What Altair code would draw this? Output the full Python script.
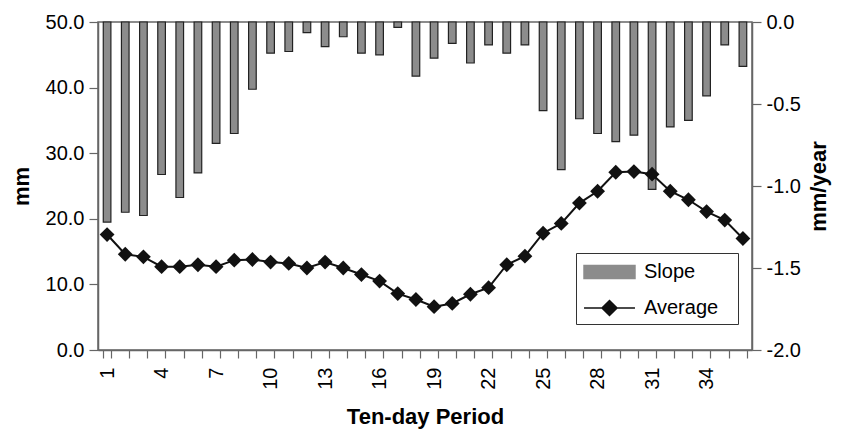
import altair as alt
import pandas as pd

periods = list(range(1, 37))
slope = [-1.22, -1.16, -1.18, -0.93, -1.07, -0.92, -0.74, -0.68, -0.41, -0.19,
         -0.18, -0.065, -0.15, -0.09, -0.19, -0.20, -0.033, -0.33, -0.22, -0.13,
         -0.25, -0.14, -0.19, -0.14, -0.54, -0.90, -0.59, -0.68, -0.73, -0.69,
         -1.02, -0.64, -0.60, -0.45, -0.14, -0.27]
average = [17.6, 14.6, 14.2, 12.7, 12.7, 13.0, 12.7, 13.7, 13.8, 13.4,
           13.2, 12.5, 13.4, 12.5, 11.5, 10.5, 8.6, 7.7, 6.6, 7.1,
           8.5, 9.5, 13.0, 14.3, 17.8, 19.3, 22.4, 24.2, 27.1, 27.2,
           26.8, 24.2, 22.9, 21.1, 19.8, 17.0]

df = pd.DataFrame({"period": periods, "slope": slope, "average": average})
df_s = df.assign(series="Slope")
df_a = df.assign(series="Average")

FONT = "Liberation Sans"
AXIS_COLOR = "#666666"
LABEL_SIZE = 20
TITLE_SIZE = 22

color = alt.Color(
    "series:N",
    scale=alt.Scale(domain=["Slope", "Average"], range=["#8c8c8c", "#111111"]),
    legend=alt.Legend(
        title="MM",
        titleOrient="right",
        titlePadding=0,
        titleFontSize=9,
        titleFont=FONT,
        titleOpacity=0,
        orient="none",
        legendX=478,
        legendY=231,
        padding=5,
        strokeColor="#333333",
        fillColor="white",
        symbolSize=676,
        symbolOffset=14.5,
        labelOffset=20.5,
        rowPadding=12,
        labelFont=FONT,
        labelFontSize=20,
        labelColor="black",
        symbolStrokeWidth=1.5,
        symbolType={"expr": "datum.value == 'Slope' ? 'M-1.96,-0.5H1.96V0.5H-1.96Z' : 'M-1.96,0H1.96M-0.58,0L0,-0.58L0.58,0L0,0.58Z'"},
        symbolFillColor={"expr": "datum.value == 'Slope' ? '#8c8c8c' : '#111111'"},
        symbolStrokeColor="#222222",
        symbolOpacity=1,
    ),
)

x = alt.X(
    "period:O",
    scale=alt.Scale(paddingInner=0.58, paddingOuter=0.29),
    axis=alt.Axis(
        title="Ten-day Period",
        titleFont=FONT,
        titleFontSize=TITLE_SIZE,
        titleFontWeight="bold",
        titleColor="black",
        titlePadding=17,
        labelAngle=270,
        labelFont=FONT,
        labelFontSize=LABEL_SIZE,
        labelColor="black",
        labelPadding=9,
        labelExpr="(datum.value - 1) % 3 == 0 ? datum.label : ''",
        tickBand="extent",
        tickSize=8,
        tickColor=AXIS_COLOR,
        tickWidth=1.2,
        domainColor=AXIS_COLOR,
        domainWidth=1.5,
        grid=False,
    ),
)

bars = alt.Chart(df_s).mark_bar(strokeWidth=1.2, opacity=1).encode(
    x=x,
    y=alt.Y(
        "slope:Q",
        scale=alt.Scale(domain=[-2, 0], nice=False, zero=False),
        axis=alt.Axis(
            orient="right",
            title="mm/year",
            titleFont=FONT,
            titleFontSize=TITLE_SIZE,
            titleFontWeight="bold",
            titleColor="black",
            titleAngle=270,
            titleBaseline="top",
            titlePadding=8,
            values=[-2.0, -1.5, -1.0, -0.5, 0.0],
            format=".1f",
            labelExpr="replace(datum.label, '\u2212', '-')",
            labelFont=FONT,
            labelFontSize=LABEL_SIZE,
            labelColor="black",
            labelPadding=5,
            tickSize=9,
            tickColor=AXIS_COLOR,
            tickWidth=1.2,
            domainColor=AXIS_COLOR,
            domainWidth=1.5,
            grid=False,
        ),
    ),
    y2=alt.datum(0),
    color=color,
    stroke=alt.value("#222222"),
)

line = alt.Chart(df_a).mark_line(strokeWidth=2, point=alt.OverlayMarkDef(shape="diamond", size=220, filled=True, opacity=1)).encode(
    x=x,
    y=alt.Y(
        "average:Q",
        scale=alt.Scale(domain=[0, 50], nice=False),
        axis=alt.Axis(
            orient="left",
            title="mm",
            titleFont=FONT,
            titleFontSize=TITLE_SIZE,
            titleFontWeight="bold",
            titleColor="black",
            titlePadding=12,
            values=[0, 10, 20, 30, 40, 50],
            format=".1f",
            labelFont=FONT,
            labelFontSize=LABEL_SIZE,
            labelColor="black",
            labelPadding=5,
            tickSize=9,
            tickColor=AXIS_COLOR,
            tickWidth=1.2,
            domainColor=AXIS_COLOR,
            domainWidth=1.5,
            grid=False,
        ),
    ),
    color=color,
)

chart = (
    alt.layer(bars, line)
    .resolve_scale(y="independent")
    .properties(
        width=654,
        height=328,
        autosize=alt.AutoSizeParams(type="none"),
        padding={"left": 98, "top": 22, "right": 90, "bottom": 81},
        background="white",
    )
    .configure_view(stroke=AXIS_COLOR, strokeWidth=1.5)
)

chart.save("out.html", embed_options={"renderer": "svg", "actions": False})
